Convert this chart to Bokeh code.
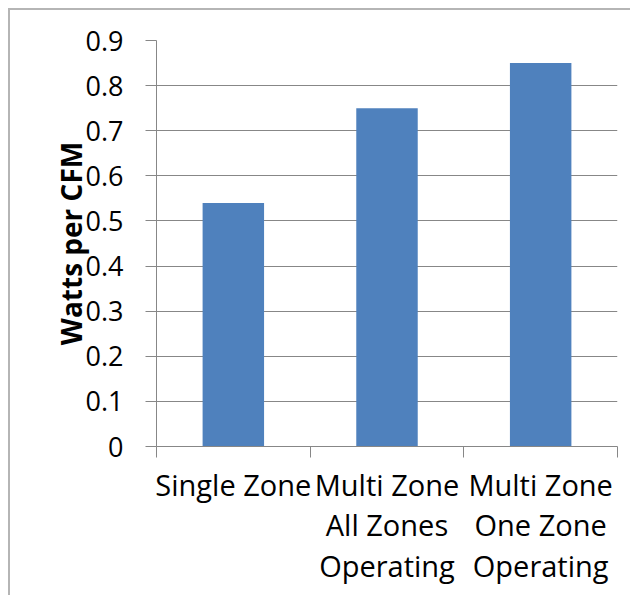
from bokeh.plotting import figure
from bokeh.models import Range1d, FixedTicker, NumeralTickFormatter, ColumnDataSource
from bokeh.embed import file_html
from bokeh.resources import INLINE

categories = ["Single Zone", "Multi Zone\nAll Zones\nOperating", "Multi Zone\nOne Zone\nOperating"]
watts_per_cfm = [0.54, 0.75, 0.85]
y_ticks = [0, 0.1, 0.2, 0.3, 0.4, 0.5, 0.6, 0.7, 0.8, 0.9]

xs = [i + 0.5 for i in range(len(categories))]
src = ColumnDataSource(dict(x=xs, top=watts_per_cfm))

p = figure(width=622, height=587, x_range=Range1d(0, len(categories)), y_range=Range1d(0, 0.9),
           output_backend="svg", toolbar_location=None,
           min_border_left=146, min_border_right=15, min_border_top=30, min_border_bottom=151)
p.styles = {"margin-left": "8px", "margin-top": "8px",
            "border-left": "2px solid #b5b5b5", "border-top": "2px solid #b5b5b5"}
p.outline_line_color = None
p.background_fill_color = "white"
p.border_fill_color = "white"

p.vbar(x="x", top="top", width=0.4, bottom=0, source=src, fill_color="#4F81BD", line_color=None)

grid_col = "#878787"
font = "Open Sans"

# y axis
ya = p.yaxis[0]
ya.ticker = FixedTicker(ticks=y_ticks)
ya.formatter = NumeralTickFormatter(format="0.[0]")
ya.axis_line_color = grid_col
ya.major_tick_line_color = grid_col
ya.major_tick_out = 11
ya.major_tick_in = 0
ya.minor_tick_line_color = None
ya.major_label_text_font = font
ya.major_label_text_font_size = "27px"
ya.major_label_text_color = "black"
ya.major_label_standoff = 22
ya.axis_label = "Watts per CFM"
ya.axis_label_text_font = font
ya.axis_label_text_font_size = "28px"
ya.axis_label_text_font_style = "bold"
ya.axis_label_text_color = "black"
ya.axis_label_standoff = -7

p.ygrid.ticker = FixedTicker(ticks=y_ticks)
p.ygrid.grid_line_color = grid_col
p.xgrid.grid_line_color = None

# x axis
xa = p.xaxis[0]
xa.ticker = FixedTicker(ticks=xs, minor_ticks=list(range(len(categories) + 1)))
xa.major_label_overrides = {x: c for x, c in zip(xs, categories)}
xa.axis_line_color = grid_col
xa.major_tick_line_color = None
xa.major_tick_out = 0
xa.major_tick_in = 0
xa.minor_tick_line_color = grid_col
xa.minor_tick_out = 11
xa.minor_tick_in = 0
xa.major_label_text_font = font
xa.major_label_text_font_size = "29px"
xa.major_label_text_color = "black"
xa.major_label_text_line_height = 1.04
xa.major_label_standoff = 7

open("out.html", "w").write(file_html(p, INLINE))
